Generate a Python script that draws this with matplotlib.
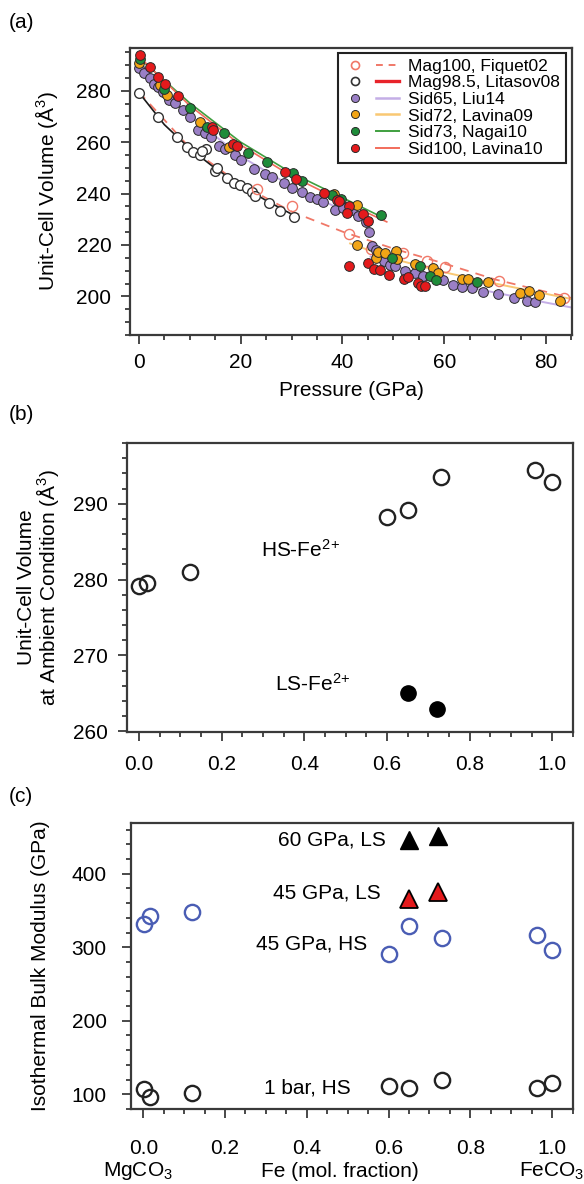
import matplotlib
matplotlib.use('Agg')
import matplotlib.pyplot as plt
from matplotlib.lines import Line2D
from matplotlib.legend_handler import HandlerTuple
from matplotlib.ticker import MultipleLocator
import matplotlib.transforms as mtrans

plt.rcParams['font.family'] = ['Liberation Sans', 'DejaVu Sans']
plt.rcParams['mathtext.fontset'] = 'custom'
plt.rcParams['mathtext.rm'] = 'Liberation Sans'
plt.rcParams['mathtext.it'] = 'Liberation Sans:italic'
plt.rcParams['mathtext.bf'] = 'Liberation Sans:bold'

# ---------------- Panel (a) data: pressure (GPa) vs unit-cell volume (A^3)
mag100_P = [23.2, 30.1, 41.3, 45.6, 51.9, 56.6, 60.1, 70.8, 83.5]
mag100_V = [241.7, 235.3, 224.4, 218.3, 217.0, 213.6, 211.5, 206.0, 199.5]

mag985_P = [0.1, 3.8, 7.4, 9.5, 10.7, 12.0, 13.2, 12.3, 15.0, 15.3, 17.3, 18.6,
            19.9, 21.2, 22.2, 22.8, 25.6, 27.7, 30.4]
mag985_V = [279.2, 269.7, 261.9, 258.0, 256.3, 255.0, 257.2, 256.5, 248.9, 250.0,
            246.0, 244.3, 243.4, 242.1, 240.8, 239.1, 236.3, 233.4, 230.8]

sid65_P = [0.0, 1.0, 2.1, 2.9, 3.7, 4.8, 5.9, 7.0, 8.7, 10.1, 11.7, 12.9, 14.1, 15.8,
           17.0, 18.8, 20.0, 22.6, 24.8, 26.2, 28.6, 30.1, 32.1, 33.6, 34.9, 36.1,
           38.6, 40.2, 41.8, 43.0, 44.6, 45.3, 45.8, 46.6, 46.8, 48.2, 49.3, 50.4,
           52.3, 54.3, 55.8, 59.8, 61.8, 63.4, 65.4, 67.7, 70.6, 73.8, 76.2, 77.9]
sid65_V = [288.7, 287.0, 284.8, 282.8, 281.3, 279.6, 276.4, 275.1, 272.5, 269.9,
           264.7, 263.4, 262.1, 258.5, 257.3, 255.0, 253.1, 249.5, 247.6, 246.6,
           244.3, 242.1, 240.5, 238.8, 237.9, 236.9, 233.7, 234.3, 233.7, 231.1,
           229.1, 224.9, 219.7, 218.1, 215.8, 213.6, 212.3, 211.7, 209.7, 209.1,
           208.0, 206.5, 204.5, 203.6, 203.3, 201.9, 201.0, 199.4, 198.4, 197.8]

sid72_P = [0.0, 4.1, 5.6, 12.0, 17.8, 38.3, 42.8, 42.9, 46.6, 46.9, 48.4, 50.6, 50.8,
           54.3, 57.7, 58.8, 63.4, 64.7, 68.5, 74.8, 76.7, 78.7, 82.7]
sid72_V = [290.6, 282.2, 278.3, 267.7, 258.3, 239.9, 235.6, 220.1, 214.9, 217.1,
           216.9, 217.5, 214.5, 212.7, 211.0, 209.1, 206.8, 206.7, 205.8, 201.3,
           202.3, 200.6, 198.1]

sid73_P = [0.2, 5.0, 10.1, 13.4, 16.7, 21.5, 25.1, 30.2, 32.1, 38.0, 39.8, 47.5,
           49.7, 55.2, 57.1, 58.4, 66.5]
sid73_V = [292.3, 280.8, 273.1, 265.8, 263.4, 255.9, 252.2, 247.9, 244.7, 239.5,
           237.8, 231.7, 214.9, 211.7, 207.8, 206.2, 205.8]

sid100_P = [0.2, 2.2, 3.7, 5.1, 7.6, 14.4, 14.6, 18.5, 19.3, 28.8, 30.9, 36.4, 39.0,
            39.3, 41.2, 40.8, 44.1, 45.1, 41.2, 45.1, 46.2, 47.4, 49.2, 52.0, 52.8,
            54.8, 55.4, 56.3]
sid100_V = [293.9, 289.1, 285.2, 282.6, 278.1, 266.0, 264.8, 259.3, 258.6, 248.3,
            245.7, 240.4, 237.6, 237.0, 235.0, 232.4, 232.1, 229.5, 211.7, 213.0,
            210.6, 210.4, 208.4, 206.8, 207.5, 205.4, 204.1, 204.1]

# fitted EOS curves
fit_mag100_P = [0, 10, 20, 30, 40, 50, 60, 70, 85]
fit_mag100_V = [279.5, 257.8, 243.5, 233.0, 225.2, 218.6, 212.8, 206.6, 199.4]
fit_mag985_P = [0, 5, 10, 15, 20, 25, 30]
fit_mag985_V = [279.3, 266.8, 257.5, 249.8, 243.2, 237.3, 232.0]
fit_sid65_hs_P = [0, 10, 20, 30, 40, 45.5]
fit_sid65_hs_V = [289.0, 270.2, 254.5, 242.8, 233.6, 229.4]
fit_sid65_ls_P = [45.5, 55, 65, 75, 85]
fit_sid65_ls_V = [215.5, 208.7, 203.5, 199.5, 195.7]
fit_sid72_ls_P = [41.5, 50, 60, 70, 85]
fit_sid72_ls_V = [220.6, 214.6, 209.4, 205.0, 199.0]
fit_sid73_P = [0, 10, 20, 30, 40, 47.7]
fit_sid73_V = [292.8, 275.2, 260.0, 248.0, 238.4, 230.9]
fit_sid100_P = [0, 10, 20, 30, 40, 48.7]
fit_sid100_V = [293.3, 274.2, 258.9, 246.8, 237.0, 229.0]

legend_labels = ['Mag100, Fiquet02', 'Mag98.5, Litasov08', 'Sid65, Liu14',
                 'Sid72, Lavina09', 'Sid73, Nagai10', 'Sid100, Lavina10']

# ---------------- Panel (b) data: Fe fraction vs ambient volume
hs_x = [0.0, 0.019, 0.123, 0.601, 0.651, 0.731, 0.959, 1.0]
hs_v = [279.1, 279.6, 281.0, 288.3, 289.2, 293.5, 294.4, 292.9]
ls_x = [0.651, 0.72]
ls_v = [265.0, 262.9]

# ---------------- Panel (c) data: Fe fraction vs bulk modulus
c_x = [0.003, 0.016, 0.12, 0.601, 0.651, 0.731, 0.962, 1.0]
k_1bar_hs = [106.8, 96.7, 102.0, 111.0, 108.0, 119.5, 109.0, 116.0]
k_45_hs = [332.0, 342.0, 347.6, 291.4, 328.6, 312.8, 316.3, 296.0]
ls_c_x = [0.651, 0.72]
k_45_ls = [365.6, 374.6]
k_60_ls = [446.0, 450.8]

# ---------------- figure
W, H = 584, 1184
fig = plt.figure(figsize=(W / 100, H / 100), dpi=100)


def add_ax(l, r, t, b):
    return fig.add_axes([l / W, 1 - b / H, (r - l) / W, (b - t) / H])


axA = add_ax(130, 572, 47.5, 335)
axB = add_ax(127, 573, 443, 732)
axC = add_ax(131, 573, 823, 1109)

SP = '#3a3a3a'


def style(ax, xmaj, xmin, ymaj, ymin, xpad, ypad):
    for s in ax.spines.values():
        s.set_linewidth(1.6)
        s.set_color(SP)
    ax.xaxis.set_major_locator(MultipleLocator(xmaj))
    ax.xaxis.set_minor_locator(MultipleLocator(xmin))
    ax.yaxis.set_major_locator(MultipleLocator(ymaj))
    ax.yaxis.set_minor_locator(MultipleLocator(ymin))
    ax.tick_params(which='both', direction='out', width=1.3, color=SP, labelsize=15)
    ax.tick_params(which='major', length=6.5)
    ax.tick_params(which='minor', length=3.5)
    ax.tick_params(axis='x', which='both', pad=xpad, top=False)
    ax.tick_params(axis='y', which='both', pad=ypad, right=False)


# ---- (a)
EC = '#2a2a2a'
C_PUR, C_ORA, C_GRN, C_RED = '#9a7fc6', '#f2a516', '#1e8c3a', '#e41a1c'
L_PUR, L_ORA, L_GRN, L_RED = '#c4aee6', '#f9c873', '#3f9f3f', '#f26d5b'
C_MAG = '#f07868'

axA.plot(fit_mag100_P, fit_mag100_V, ls=(0, (5, 4)), color=C_MAG, lw=1.3, zorder=1)
axA.plot(fit_sid65_hs_P, fit_sid65_hs_V, color=L_PUR, lw=1.4, zorder=1)
axA.plot(fit_sid65_ls_P, fit_sid65_ls_V, color=L_PUR, lw=1.4, zorder=1)
axA.plot(fit_sid72_ls_P, fit_sid72_ls_V, color=L_ORA, lw=1.4, zorder=1)
axA.plot(fit_sid73_P, fit_sid73_V, color=L_GRN, lw=1.2, zorder=1)
axA.plot(fit_sid100_P, fit_sid100_V, color=L_RED, lw=1.2, zorder=1)
axA.plot(fit_mag985_P, fit_mag985_V, color='#1a1a1a', lw=1.2, zorder=2)

ms = 7.0
axA.plot(mag985_P, mag985_V, 'o', ms=ms, mfc='white', mec='#333333', mew=1.0, zorder=3)
axA.plot(mag100_P, mag100_V, 'o', ms=ms + 0.3, mfc='none', mec=C_MAG, mew=1.0, zorder=3)
axA.plot(sid65_P, sid65_V, 'o', ms=ms, mfc=C_PUR, mec=EC, mew=0.7, zorder=4)
axA.plot(sid72_P, sid72_V, 'o', ms=ms, mfc=C_ORA, mec=EC, mew=0.7, zorder=5)
axA.plot(sid73_P, sid73_V, 'o', ms=ms, mfc=C_GRN, mec=EC, mew=0.7, zorder=6)
axA.plot(sid100_P, sid100_V, 'o', ms=ms, mfc=C_RED, mec=EC, mew=0.7, zorder=7)

axA.set_xlim(-1.75, 85.1)
axA.set_ylim(185, 296.8)
style(axA, 20, 5, 20, 5, 6.5, 7)
axA.set_xlabel('Pressure (GPa)', fontsize=15)
axA.xaxis.label.set_va('center')
axA.xaxis.set_label_coords(0.5, -55 / 287.5)
axA.set_ylabel('Unit-Cell Volume (Å$^3$)', fontsize=15)
axA.yaxis.label.set_va('center')
axA.yaxis.set_label_coords(-83 / 442, 0.5)

lms = 5.8
handles = [
    (Line2D([], [], ls='none', marker='o', ms=lms, mfc='none', mec=C_MAG, mew=1.2),
     Line2D([], [], color=C_MAG, lw=1.4, ls=(0, (3.5, 3)))),
    (Line2D([], [], ls='none', marker='o', ms=lms, mfc='white', mec='#333333', mew=1.2),
     Line2D([], [], color='#e8232a', lw=2.4)),
    (Line2D([], [], ls='none', marker='o', ms=lms, mfc=C_PUR, mec=EC, mew=0.7),
     Line2D([], [], color=L_PUR, lw=1.8)),
    (Line2D([], [], ls='none', marker='o', ms=lms, mfc=C_ORA, mec=EC, mew=0.7),
     Line2D([], [], color=L_ORA, lw=1.8)),
    (Line2D([], [], ls='none', marker='o', ms=lms, mfc=C_GRN, mec=EC, mew=0.7),
     Line2D([], [], color=L_GRN, lw=1.4)),
    (Line2D([], [], ls='none', marker='o', ms=lms, mfc=C_RED, mec=EC, mew=0.7),
     Line2D([], [], color=L_RED, lw=1.4)),
]
leg = axA.legend(handles, legend_labels,
                 handler_map={tuple: HandlerTuple(ndivide=None, pad=0.5)},
                 loc='upper right', bbox_to_anchor=(0.986, 0.982), fontsize=12.5,
                 labelspacing=0.08, handlelength=3.2, handletextpad=0.5,
                 borderpad=0.35, borderaxespad=0, frameon=True, fancybox=False,
                 edgecolor='#222222', framealpha=1)
leg.get_frame().set_linewidth(1.5)
leg.set_zorder(10)

# ---- (b)
axB.plot(hs_x, hs_v, 'o', ms=11, mfc='none', mec='#222222', mew=1.7)
axB.plot(ls_x, ls_v, 'o', ms=11, mfc='black', mec='black', mew=1.0)
axB.text(0.39, 283.9, 'HS-Fe$^{2}$$^{+}$', fontsize=15, ha='center', va='center')
axB.text(0.42, 266.2, 'LS-Fe$^{2}$$^{+}$', fontsize=15, ha='center', va='center')
axB.set_xlim(-0.029, 1.05)
axB.set_ylim(259.9, 298)
style(axB, 0.2, 0.05, 10, 2, 10, 7)
axB.set_ylabel('Unit-Cell Volume\nat Ambient Condition (Å$^3$)', fontsize=15,
               linespacing=0.9)
axB.yaxis.label.set_va('center')
axB.yaxis.set_label_coords(-88 / 446, 0.5)

# ---- (c)
axC.plot(c_x, k_1bar_hs, 'o', ms=11, mfc='none', mec='#222222', mew=1.7)
axC.plot(c_x, k_45_hs, 'o', ms=11, mfc='none', mec='#4a5db4', mew=1.7)
axC.plot(ls_c_x, k_45_ls, '^', ms=13, mfc='#e41a1c', mec='black', mew=1.3)
axC.plot(ls_c_x, k_60_ls, '^', ms=13, mfc='black', mec='black', mew=1.0)
axC.text(0.594, 446, '60 GPa, LS', fontsize=15, ha='right', va='center')
axC.text(0.58, 374, '45 GPa, LS', fontsize=15, ha='right', va='center')
axC.text(0.548, 305, '45 GPa, HS', fontsize=15, ha='right', va='center')
axC.text(0.507, 108, '1 bar, HS', fontsize=15, ha='right', va='center')
axC.set_xlim(-0.030, 1.051)
axC.set_ylim(80, 469)
style(axC, 0.2, 0.05, 100, 20, 15, 11)
axC.set_ylabel('Isothermal Bulk Modulus (GPa)', fontsize=15)
axC.yaxis.label.set_va('center')
axC.yaxis.set_label_coords(-90 / 442, 0.5)
tr = mtrans.blended_transform_factory(axC.transData, axC.transAxes)
yb = -(1171.7 - 1109.3) / 286
axC.text(-0.014, yb, 'MgCO$_3$', fontsize=15, ha='center', va='center', transform=tr)
axC.text(0.48, yb, 'Fe (mol. fraction)', fontsize=15, ha='center', va='center', transform=tr)
axC.text(0.918, yb, 'FeCO$_3$', fontsize=15, ha='left', va='center', transform=tr)

# panel letters
fig.text(9 / W, 1 - 23 / H, '(a)', fontsize=15, va='center', ha='left')
fig.text(9 / W, 1 - 415 / H, '(b)', fontsize=15, va='center', ha='left')
fig.text(9 / W, 1 - 797 / H, '(c)', fontsize=15, va='center', ha='left')

fig.savefig('out.png', dpi=100)
